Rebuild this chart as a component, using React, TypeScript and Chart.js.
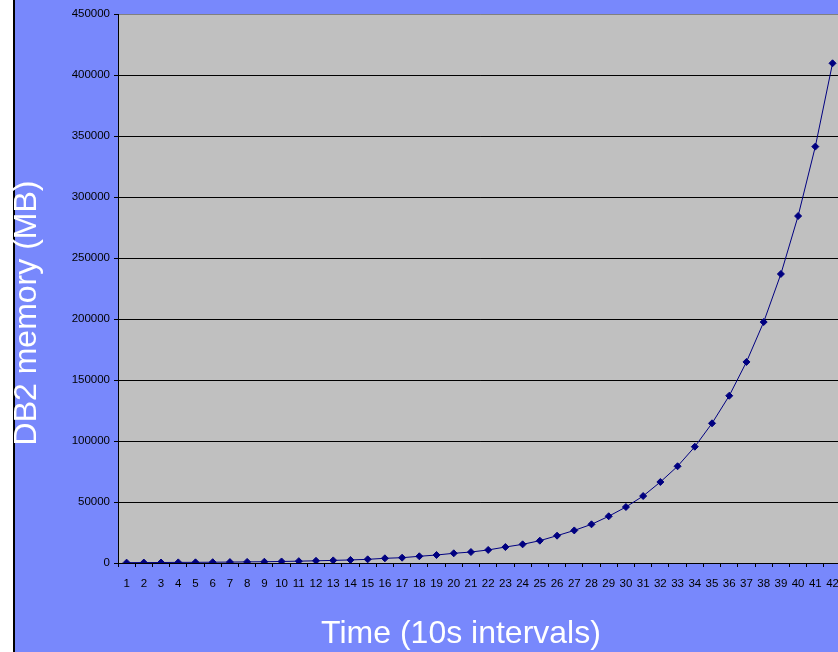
import React, { useEffect, useRef } from "react";
import { Chart, registerables } from "chart.js";

Chart.register(...registerables);

const categories: string[] = Array.from({ length: 42 }, (_, i) => String(i + 1));

const memoryMB: number[] = [
  300, 350, 400, 500, 550, 650, 750, 900, 1050, 1250,
  1500, 1800, 2150, 2500, 3000, 3850, 4350, 5500, 6550, 7950,
  9000, 10700, 13100, 15300, 18300, 22400, 26700, 31700, 38300, 45900,
  54900, 66400, 79300, 95300, 114500, 137100, 164800, 197500, 236900, 284400,
  341300, 409600,
];

const yMin = 0;
const yMax = 450000;
const yStep = 50000;

const xTitle = "Time (10s intervals)";
const yTitle = "DB2 memory (MB)";

const FONT = "'Liberation Sans', Arial, sans-serif";

const bgPlugin = {
  id: "bgPlugin",
  beforeDraw(chart: any) {
    const { ctx, width, height, chartArea } = chart;
    ctx.save();
    ctx.fillStyle = "#7888FC";
    ctx.fillRect(0, 0, width, height);
    ctx.fillStyle = "#ffffff";
    ctx.fillRect(0, 0, 13, height);
    ctx.fillStyle = "#000000";
    ctx.fillRect(13, 0, 2, height);
    ctx.fillStyle = "#C0C0C0";
    ctx.fillRect(chartArea.left, chartArea.top, chartArea.right - chartArea.left, chartArea.bottom - chartArea.top);
    ctx.restore();
  },
  afterDraw(chart: any) {
    const { ctx } = chart;
    ctx.save();
    ctx.fillStyle = "#ffffff";
    ctx.font = `32px ${FONT}`;
    ctx.textAlign = "center";
    ctx.textBaseline = "middle";
    ctx.fillText(xTitle, 461, 634);
    ctx.translate(27, 313);
    ctx.rotate(-Math.PI / 2);
    ctx.fillText(yTitle, 0, 0);
    ctx.restore();
  },
};

export default function App() {
  const ref = useRef<HTMLCanvasElement | null>(null);

  useEffect(() => {
    if (!ref.current) return;
    const chart = new Chart(ref.current, {
      type: "line",
      data: {
        labels: categories,
        datasets: [
          {
            data: memoryMB,
            borderColor: "#000080",
            backgroundColor: "#000080",
            borderWidth: 1,
            pointStyle: "rectRot",
            pointRadius: 3.5,
            pointBorderWidth: 1,
            pointBorderColor: "#000080",
            pointBackgroundColor: "#000080",
            tension: 0,
            fill: false,
          },
        ],
      },
      options: {
        responsive: false,
        animation: false,
        devicePixelRatio: 1,
        layout: { padding: { left: 0, right: 0, top: 14, bottom: 0 } },
        plugins: {
          legend: { display: false },
          tooltip: { enabled: false },
          title: { display: false },
        },
        scales: {
          x: {
            type: "category",
            offset: true,
            afterFit: (s: any) => {
              s.height = 89;
            },
            grid: {
              display: true,
              offset: true,
              drawOnChartArea: false,
              drawTicks: true,
              tickLength: 4,
              tickColor: "#000000",
              color: "#000000",
            },
            border: { display: true, color: "#000000", width: 1 },
            ticks: {
              autoSkip: false,
              maxRotation: 0,
              minRotation: 0,
              padding: 10,
              color: "#000000",
              font: { family: FONT, size: 11.5 },
            },
          },
          y: {
            min: yMin,
            max: yMax,
            afterFit: (s: any) => {
              s.width = 118;
            },
            grid: {
              display: true,
              drawTicks: true,
              tickLength: 4,
              tickColor: "#000000",
              color: (c: any) => (c.tick && c.tick.value === yMax ? "#808080" : "#000000"),
              lineWidth: 1,
            },
            border: { display: true, color: "#000000", width: 1 },
            ticks: {
              stepSize: yStep,
              padding: 4,
              color: "#000000",
              font: { family: FONT, size: 11.5 },
              callback: (v: any) => String(v),
            },
          },
        },
      },
      plugins: [bgPlugin],
    });
    return () => chart.destroy();
  }, []);

  return (
    <div
      style={{
        position: "absolute",
        left: 0,
        top: 0,
        width: 838,
        height: 652,
        overflow: "hidden",
        background: "#ffffff",
      }}
    >
      <canvas ref={ref} width={849} height={652} style={{ width: 849, height: 652, display: "block" }} />
    </div>
  );
}
